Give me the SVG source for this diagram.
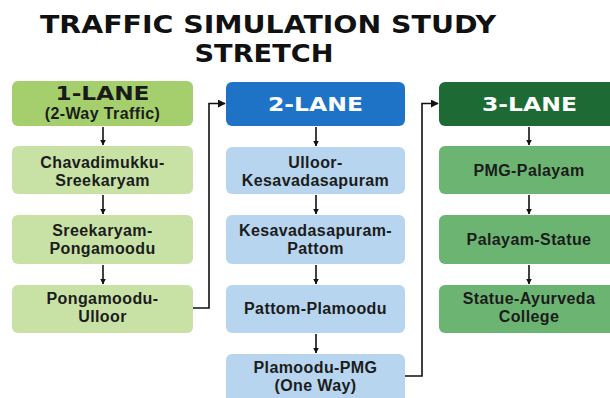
<svg xmlns="http://www.w3.org/2000/svg" width="610" height="398" viewBox="0 0 610 398">
<defs>
<marker id="ah" viewBox="0 0 10 10" refX="9" refY="5" markerWidth="5.5" markerHeight="5.5" markerUnits="userSpaceOnUse" orient="auto"><path d="M0,0 L10,5 L0,10 Z" fill="#111"/></marker>
<marker id="ah2" viewBox="0 0 10 10" refX="9" refY="5" markerWidth="8" markerHeight="8" markerUnits="userSpaceOnUse" orient="auto"><path d="M0,0 L10,5 L0,10 Z" fill="#111"/></marker>
</defs>
<style>
.title{font-family:"DejaVu Sans","Liberation Sans",Arial,sans-serif;font-weight:bold;font-size:25px;fill:#111;text-anchor:middle}
.t{font-family:"Liberation Sans",Arial,sans-serif;font-weight:bold;font-size:16px;letter-spacing:0.4px;fill:#1c1c1c;text-anchor:middle}
.h{font-family:"DejaVu Sans","Liberation Sans",Arial,sans-serif;font-weight:bold;font-size:19px;text-anchor:middle}
.w{fill:#ffffff}
.d{fill:#1a1a1a}
.c1h{fill:#a4cf6c}
.c1{fill:#c8e2a6}
.c2h{fill:#1f73c6}
.c2{fill:#b7d5ef}
.c3h{fill:#1e6a34}
.c3{fill:#6cb472}
.conn line,.conn polyline{stroke:#111;stroke-width:1.6;fill:none}
</style>
<rect width="610" height="398" fill="#ffffff"/>
<text class="title" x="268" y="33" textLength="456" lengthAdjust="spacingAndGlyphs">TRAFFIC SIMULATION STUDY</text>
<text class="title" x="264" y="62" textLength="139" lengthAdjust="spacingAndGlyphs">STRETCH</text>

<g id="lane1-header"><rect class="c1h" x="12" y="81" width="181" height="45" rx="6"/><text class="h d" x="102.5" y="100" textLength="94" lengthAdjust="spacingAndGlyphs">1-LANE</text><text class="t" x="102.5" y="119">(2-Way Traffic)</text></g>
<g id="lane1-b1"><rect class="c1" x="12" y="146" width="181" height="48" rx="6"/><text class="t" x="102.5" y="168">Chavadimukku-</text><text class="t" x="102.5" y="186">Sreekaryam</text></g>
<g id="lane1-b2"><rect class="c1" x="12" y="215" width="181" height="49" rx="6"/><text class="t" x="102.5" y="236">Sreekaryam-</text><text class="t" x="102.5" y="254">Pongamoodu</text></g>
<g id="lane1-b3"><rect class="c1" x="12" y="285" width="181" height="48" rx="6"/><text class="t" x="102.5" y="304">Pongamoodu-</text><text class="t" x="102.5" y="322">Ulloor</text></g>

<g id="lane2-header"><rect class="c2h" x="226" y="82" width="179" height="44" rx="6"/><text class="h w" x="315.5" y="111" textLength="95" lengthAdjust="spacingAndGlyphs">2-LANE</text></g>
<g id="lane2-b1"><rect class="c2" x="226" y="147" width="179" height="47" rx="6"/><text class="t" x="315.5" y="168">Ulloor-</text><text class="t" x="315.5" y="186">Kesavadasapuram</text></g>
<g id="lane2-b2"><rect class="c2" x="226" y="215" width="179" height="49" rx="6"/><text class="t" x="315.5" y="236">Kesavadasapuram-</text><text class="t" x="315.5" y="254">Pattom</text></g>
<g id="lane2-b3"><rect class="c2" x="226" y="285" width="179" height="48" rx="6"/><text class="t" x="315.5" y="314">Pattom-Plamoodu</text></g>
<g id="lane2-b4"><rect class="c2" x="226" y="354" width="179" height="52" rx="6"/><text class="t" x="315.5" y="373">Plamoodu-PMG</text><text class="t" x="315.5" y="391">(One Way)</text></g>

<g id="lane3-header"><rect class="c3h" x="439" y="82" width="180" height="44" rx="6"/><text class="h w" x="529.5" y="111" textLength="95" lengthAdjust="spacingAndGlyphs">3-LANE</text></g>
<g id="lane3-b1"><rect class="c3" x="439" y="146" width="180" height="48" rx="6"/><text class="t" x="529" y="176">PMG-Palayam</text></g>
<g id="lane3-b2"><rect class="c3" x="439" y="215" width="180" height="49" rx="6"/><text class="t" x="529" y="245">Palayam-Statue</text></g>
<g id="lane3-b3"><rect class="c3" x="439" y="285" width="180" height="48" rx="6"/><text class="t" x="529" y="304">Statue-Ayurveda</text><text class="t" x="529" y="322">College</text></g>

<g class="conn" id="connectors">
<line x1="103" y1="127" x2="103" y2="145" marker-end="url(#ah)"/>
<line x1="103" y1="195" x2="103" y2="214" marker-end="url(#ah)"/>
<line x1="103" y1="265" x2="103" y2="284" marker-end="url(#ah)"/>
<line x1="316" y1="127" x2="316" y2="146" marker-end="url(#ah)"/>
<line x1="316" y1="195" x2="316" y2="214" marker-end="url(#ah)"/>
<line x1="316" y1="265" x2="316" y2="284" marker-end="url(#ah)"/>
<line x1="316" y1="334" x2="316" y2="353" marker-end="url(#ah)"/>
<line x1="529" y1="127" x2="529" y2="145" marker-end="url(#ah)"/>
<line x1="529" y1="195" x2="529" y2="214" marker-end="url(#ah)"/>
<line x1="529" y1="265" x2="529" y2="284" marker-end="url(#ah)"/>
<polyline points="193,308 209,308 209,103.5 225,103.5" marker-end="url(#ah2)"/>
<polyline points="405,376 422,376 422,103.5 438,103.5" marker-end="url(#ah2)"/>
</g>
</svg>
